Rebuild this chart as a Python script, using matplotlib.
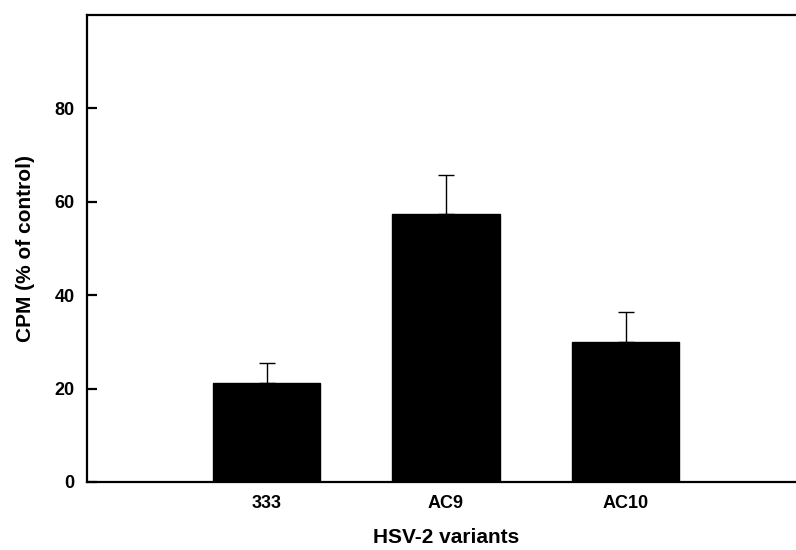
import matplotlib
matplotlib.use("Agg")
import matplotlib.pyplot as plt

# values
variants = ["333", "AC9", "AC10"]
cpm = [21.1, 57.4, 30.0]
cpm_err = [4.3, 8.4, 6.5]
y_ticks = [0, 20, 40, 60, 80]

plt.rcParams['font.family'] = ['Liberation Sans', 'DejaVu Sans']
plt.rcParams['font.weight'] = 'bold'

fig = plt.figure(figsize=(7.96, 5.5), dpi=100)
ax = fig.add_axes([87 / 796, 1 - 482 / 550, 718 / 796, 467 / 550])

pos = list(range(1, len(variants) + 1))
ax.bar(pos, cpm, width=0.6, color='black', edgecolor='black', zorder=2)
ax.errorbar(pos, [c + e / 2 for c, e in zip(cpm, cpm_err)],
            yerr=[[e / 2 for e in cpm_err], [e / 2 for e in cpm_err]],
            fmt='none', ecolor='black', elinewidth=1, capsize=5.5, capthick=1, zorder=1)

ax.set_xlim(0, 4)
ax.set_ylim(0, 100)
ax.set_xticks(pos)
ax.set_xticklabels(variants)
ax.set_yticks(y_ticks)

for s in ax.spines.values():
    s.set_linewidth(1.6)

ax.tick_params(axis='x', length=0, pad=9, labelsize=13)
ax.tick_params(axis='y', direction='in', length=7, width=1.6, pad=9, labelsize=13)
for lab in ax.get_xticklabels() + ax.get_yticklabels():
    lab.set_fontweight('bold')

ax.set_xlabel("HSV-2 variants", fontsize=15, fontweight='bold', labelpad=12)
ax.set_ylabel("CPM (% of control)", fontsize=15, fontweight='bold', labelpad=14)

fig.savefig("out.png", dpi=100)
